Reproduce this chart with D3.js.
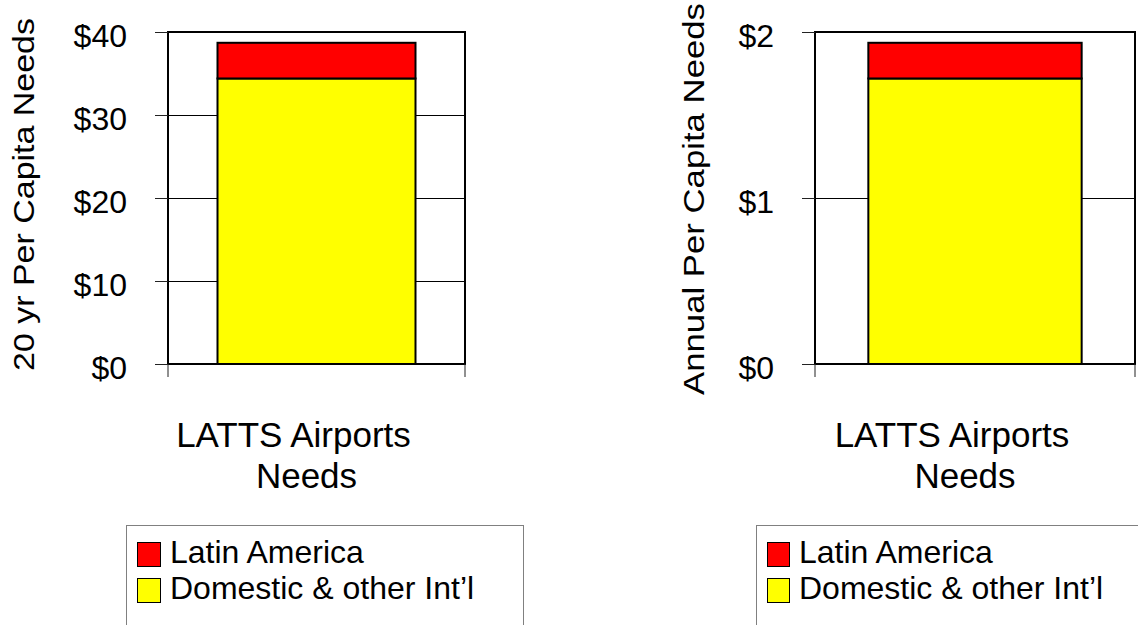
<!DOCTYPE html>
<html>
<head>
<meta charset="utf-8">
<script src="https://cdn.jsdelivr.net/npm/d3@7"></script>
<style>
  html, body { margin: 0; padding: 0; background: #fff; }
  svg { display: block; font-family: "Liberation Sans", Arial, sans-serif; }
</style>
</head>
<body>
<svg id="chart" width="1138" height="625"></svg>
<script>
// Per-capita airport needs, split into Latin America and the rest.
const categories = ["LATTS Airports Needs"];
const categoryLines = ["LATTS Airports", "Needs"];
const seriesKeys = ["domestic", "latin"];
const seriesNames = { latin: "Latin America", domestic: "Domestic & other Int\u2019l" };
const seriesColors = { latin: "#ff0000", domestic: "#ffff00" };
const legendOrder = ["latin", "domestic"];

// 20-year totals (dollars per capita)
const twentyYearDomestic = [34.4];
const twentyYearLatin = [4.3];
const twentyYearTicks = [0, 10, 20, 30, 40];
const twentyYearTitle = "20 yr Per Capita Needs";

// Annual figures (dollars per capita per year)
const annualDomestic = [1.72];
const annualLatin = [0.215];
const annualTicks = [0, 1, 2];
const annualTitle = "Annual Per Capita Needs";

const svg = d3.select("#chart");

function drawPanel(p) {
  const g = svg.append("g");
  const x = d3.scaleBand().domain(categories).range([p.x0, p.x1])
    .paddingInner(0).paddingOuter(0.25);
  const y = d3.scaleLinear().domain([0, d3.max(p.ticks)]).range([p.y1, p.y0]);

  // horizontal gridlines
  g.append("g").selectAll("line")
    .data(p.ticks.filter(t => t > 0 && t < d3.max(p.ticks)))
    .join("line")
    .attr("x1", p.x0).attr("x2", p.x1)
    .attr("y1", d => Math.round(y(d)) + 0.5).attr("y2", d => Math.round(y(d)) + 0.5)
    .attr("stroke", "#000").attr("stroke-width", 1);

  // stacked bars
  const rows = categories.map((c, i) => ({ cat: c, domestic: p.domestic[i], latin: p.latin[i] }));
  const stacked = d3.stack().keys(seriesKeys)(rows);
  g.append("g").selectAll("g")
    .data(stacked)
    .join("g")
    .attr("fill", s => seriesColors[s.key])
    .selectAll("rect")
    .data(s => s)
    .join("rect")
    .attr("x", d => x(d.data.cat))
    .attr("width", x.bandwidth())
    .attr("y", d => y(d[1]))
    .attr("height", d => y(d[0]) - y(d[1]))
    .attr("stroke", "#000").attr("stroke-width", 2);

  // plot frame
  g.append("rect")
    .attr("x", p.x0).attr("y", p.y0)
    .attr("width", p.x1 - p.x0).attr("height", p.y1 - p.y0)
    .attr("fill", "none").attr("stroke", "#000").attr("stroke-width", 2);

  // value axis
  const axis = g.append("g")
    .attr("transform", `translate(${p.x0},0)`)
    .call(d3.axisLeft(y).tickValues(p.ticks).tickSize(13).tickPadding(28)
      .tickFormat(d => "$" + d));
  axis.select(".domain").remove();
  axis.selectAll(".tick line").attr("stroke", "#222");
  axis.selectAll(".tick text")
    .attr("font-size", 32).attr("fill", "#000")
    .attr("font-family", "Liberation Sans, Arial, sans-serif")
    .attr("dy", "0.46em");

  // category axis boundary ticks
  g.append("g").selectAll("line")
    .data(x.range())
    .join("line")
    .attr("x1", d => d).attr("x2", d => d)
    .attr("y1", p.y1).attr("y2", p.y1 + 13)
    .attr("stroke", "#222").attr("stroke-width", 1);

  // category label (two lines)
  const cx = x(categories[0]) + x.bandwidth() / 2;
  const lineOffsets = [-23, -10];
  const lineBaselines = [447, 487.5];
  g.append("g").selectAll("text")
    .data(categoryLines)
    .join("text")
    .attr("x", (d, i) => cx + lineOffsets[i])
    .attr("y", (d, i) => lineBaselines[i])
    .attr("text-anchor", "middle")
    .attr("font-size", 35)
    .text(d => d);

  // axis title
  g.append("text")
    .attr("transform", `translate(${p.titleX},${p.titleY}) rotate(-90)`)
    .attr("text-anchor", "middle")
    .attr("font-size", 30)
    .attr("textLength", p.titleLength)
    .attr("lengthAdjust", "spacingAndGlyphs")
    .text(p.title);

  // legend
  const lg = g.append("g");
  lg.append("rect")
    .attr("x", p.legendX + 0.5).attr("y", 525.5)
    .attr("width", p.legendW).attr("height", 200)
    .attr("fill", "#fff").attr("stroke", "#808080").attr("stroke-width", 1);
  const item = lg.selectAll("g.item")
    .data(legendOrder)
    .join("g")
    .attr("class", "item")
    .attr("transform", (d, i) => `translate(0,${i * 36})`);
  item.append("rect")
    .attr("x", p.swatchX + 0.5).attr("y", 542.5)
    .attr("width", p.swatchW).attr("height", 24)
    .attr("fill", d => seriesColors[d])
    .attr("stroke", "#000").attr("stroke-width", 1);
  item.append("text")
    .attr("x", p.swatchX + p.swatchW + 10).attr("y", 563)
    .attr("font-size", 32)
    .text(d => seriesNames[d]);
}

drawPanel({
  x0: 168, x1: 465, y0: 32, y1: 364,
  ticks: twentyYearTicks,
  domestic: twentyYearDomestic, latin: twentyYearLatin,
  title: twentyYearTitle, titleX: 33.5, titleY: 194.5, titleLength: 353,
  legendX: 126, legendW: 397, swatchX: 137, swatchW: 23
});

drawPanel({
  x0: 815, x1: 1135, y0: 32, y1: 364,
  ticks: annualTicks,
  domestic: annualDomestic, latin: annualLatin,
  title: annualTitle, titleX: 703.5, titleY: 199, titleLength: 392,
  legendX: 756, legendW: 420, swatchX: 767, swatchW: 22
});
</script>
</body>
</html>
